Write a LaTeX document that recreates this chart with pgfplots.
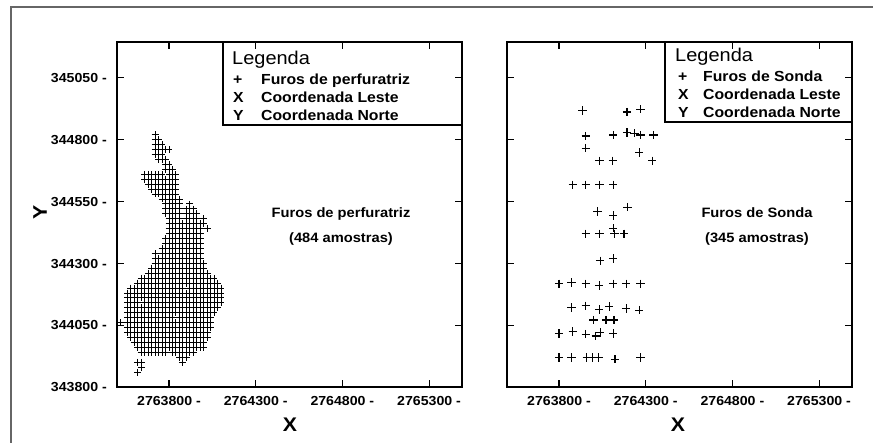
\documentclass[border=0pt]{standalone}
\usepackage{pgfplots}
\pgfplotsset{compat=1.18}
\usepackage{fontspec}
\setmainfont[FakeStretch=1.08]{Liberation Sans}
\makeatletter
\def\stripx27#1\relax{#1}
\def\firstfive#1#2#3#4#5#6\relax{#1#2#3#4#5}
\def\floatx1Y2.7#1e6]{\firstfive#10000\relax}
\def\utmx#1{\pgfutil@in@{Y}{#1}\ifpgfutil@in@\edef\pgfmathresult{\floatx#1}\else\edef\pgfmathresult{\stripx#1\relax}\fi}
\makeatother
\pgfplotsset{
  panel/.style={
    scale only axis, width=345pt, height=345pt,
    xmin=2763500, xmax=2765490, ymin=343800, ymax=345195,
    axis line style={line width=1.6pt, black},
    tick align=inside, major tick length=7pt,
    every tick/.style={black, line width=1.1pt},
    xtick={2763800,2764300,2764800,2765300},
    xticklabels={2763800 -,2764300 -,2764800 -,2765300 -},
    ytick={343800,344050,344300,344550,344800,345050},
    scaled ticks=false,
    xticklabel style={font=\bfseries\fontsize{13.1}{13.1}\selectfont, anchor=base, inner sep=0pt, yshift=-18.5pt},
    yticklabel style={font=\bfseries\fontsize{13.1}{13.1}\selectfont, anchor=base east, inner sep=0pt, xshift=-10pt, yshift=-4.7pt},
  }
}
\begin{document}
\begin{tikzpicture}[x=1pt,y=1pt]
\useasboundingbox (0,0) rectangle (873,443);
\draw[line width=1.4pt, black!60] (11,0) -- (11,436) -- (873,436);
% ---------------- left panel
\begin{axis}[panel, at={(117pt,56pt)}, anchor=south west,
  x coord trafo/.code={\utmx{#1}},
  yticklabels={343800 -,344050 -,344300 -,344550 -,344800 -,345050 -}]
\addplot[only marks, mark=+, mark size=3.4pt, mark options={line width=1pt}] coordinates {
(2763720,344820)
(2763720,344800)(2763740,344800)
(2763720,344780)(2763740,344780)(2763760,344780)
(2763720,344760)(2763740,344760)(2763760,344760)(2763780,344760)(2763800,344760)
(2763720,344740)(2763740,344740)(2763760,344740)
(2763740,344720)(2763760,344720)(2763780,344720)
(2763780,344700)(2763800,344700)
(2763780,344680)(2763800,344680)(2763820,344680)
(2763660,344660)(2763680,344660)(2763700,344660)(2763720,344660)(2763740,344660)(2763760,344660)(2763800,344660)(2763820,344660)(2763840,344660)
(2763660,344640)(2763680,344640)(2763700,344640)(2763720,344640)(2763740,344640)(2763760,344640)(2763780,344640)(2763800,344640)(2763820,344640)(2763840,344640)
(2763680,344620)(2763700,344620)(2763720,344620)(2763740,344620)(2763760,344620)(2763780,344620)(2763800,344620)(2763820,344620)(2763840,344620)
(2763700,344600)(2763720,344600)(2763740,344600)(2763760,344600)(2763780,344600)(2763800,344600)(2763820,344600)(2763840,344600)
(2763720,344580)(2763740,344580)(2763760,344580)(2763780,344580)(2763800,344580)(2763820,344580)(2763840,344580)
(2763760,344560)(2763780,344560)(2763800,344560)(2763820,344560)(2763840,344560)(2763860,344560)
(2763780,344540)(2763800,344540)(2763820,344540)(2763840,344540)(2763860,344540)(2763920,344540)
(2763780,344520)(2763800,344520)(2763820,344520)(2763840,344520)(2763860,344520)(2763900,344520)(2763920,344520)(2763940,344520)
(2763780,344500)(2763800,344500)(2763820,344500)(2763840,344500)(2763860,344500)(2763900,344500)(2763920,344500)(2763940,344500)(2763960,344500)
(2763800,344480)(2763820,344480)(2763840,344480)(2763860,344480)(2763900,344480)(2763920,344480)(2763940,344480)(2763960,344480)(2764000,344480)
(2763800,344460)(2763820,344460)(2763840,344460)(2763860,344460)(2763880,344460)(2763900,344460)(2763920,344460)(2763940,344460)(2763960,344460)(2763980,344460)(2764000,344460)
(2763800,344440)(2763820,344440)(2763840,344440)(2763860,344440)(2763880,344440)(2763900,344440)(2763920,344440)(2763940,344440)(2763960,344440)(2763980,344440)(2764020,344440)
(2763800,344420)(2763820,344420)(2763840,344420)(2763860,344420)(2763880,344420)(2763900,344420)(2763920,344420)(2763940,344420)(2763960,344420)(2763980,344420)
(2763780,344400)(2763800,344400)(2763820,344400)(2763840,344400)(2763860,344400)(2763880,344400)(2763900,344400)(2763920,344400)(2763940,344400)(2763960,344400)(2763980,344400)
(2763780,344380)(2763800,344380)(2763820,344380)(2763840,344380)(2763860,344380)(2763880,344380)(2763900,344380)(2763920,344380)(2763940,344380)(2763960,344380)(2763980,344380)
(2763760,344360)(2763780,344360)(2763800,344360)(2763820,344360)(2763840,344360)(2763860,344360)(2763880,344360)(2763900,344360)(2763920,344360)(2763940,344360)(2763960,344360)(2763980,344360)
(2763720,344340)(2763760,344340)(2763780,344340)(2763800,344340)(2763820,344340)(2763840,344340)(2763860,344340)(2763880,344340)(2763900,344340)(2763920,344340)(2763940,344340)(2763960,344340)(2763980,344340)
(2763720,344320)(2763740,344320)(2763760,344320)(2763780,344320)(2763800,344320)(2763820,344320)(2763840,344320)(2763860,344320)(2763880,344320)(2763900,344320)(2763920,344320)(2763940,344320)(2763960,344320)(2763980,344320)
(2763720,344300)(2763740,344300)(2763760,344300)(2763780,344300)(2763800,344300)(2763820,344300)(2763840,344300)(2763860,344300)(2763880,344300)(2763900,344300)(2763920,344300)(2763940,344300)(2763960,344300)(2763980,344300)(2764000,344300)
(2763700,344280)(2763720,344280)(2763740,344280)(2763760,344280)(2763780,344280)(2763800,344280)(2763820,344280)(2763840,344280)(2763860,344280)(2763880,344280)(2763900,344280)(2763920,344280)(2763940,344280)(2763960,344280)(2763980,344280)(2764000,344280)
(2763680,344260)(2763700,344260)(2763720,344260)(2763740,344260)(2763760,344260)(2763780,344260)(2763800,344260)(2763820,344260)(2763840,344260)(2763860,344260)(2763880,344260)(2763900,344260)(2763920,344260)(2763940,344260)(2763960,344260)(2763980,344260)(2764000,344260)(2764020,344260)
(2763640,344240)(2763660,344240)(2763680,344240)(2763700,344240)(2763720,344240)(2763740,344240)(2763760,344240)(2763780,344240)(2763800,344240)(2763820,344240)(2763840,344240)(2763860,344240)(2763880,344240)(2763900,344240)(2763920,344240)(2763940,344240)(2763960,344240)(2763980,344240)(2764000,344240)(2764020,344240)(2764040,344240)(2764060,344240)
(2763620,344220)(2763640,344220)(2763660,344220)(2763680,344220)(2763700,344220)(2763720,344220)(2763740,344220)(2763760,344220)(2763780,344220)(2763800,344220)(2763820,344220)(2763840,344220)(2763860,344220)(2763880,344220)(2763900,344220)(2763920,344220)(2763940,344220)(2763960,344220)(2763980,344220)(2764000,344220)(2764020,344220)(2764040,344220)(2764060,344220)(2764080,344220)
(2763580,344200)(2763600,344200)(2763620,344200)(2763640,344200)(2763660,344200)(2763680,344200)(2763700,344200)(2763720,344200)(2763740,344200)(2763760,344200)(2763780,344200)(2763800,344200)(2763820,344200)(2763840,344200)(2763860,344200)(2763880,344200)(2763920,344200)(2763940,344200)(2763960,344200)(2763980,344200)(2764000,344200)(2764020,344200)(2764040,344200)(2764060,344200)(2764080,344200)(2764100,344200)
(2763560,344180)(2763580,344180)(2763600,344180)(2763620,344180)(2763640,344180)(2763660,344180)(2763680,344180)(2763700,344180)(2763720,344180)(2763740,344180)(2763760,344180)(2763780,344180)(2763800,344180)(2763820,344180)(2763840,344180)(2763860,344180)(2763880,344180)(2763900,344180)(2763920,344180)(2763940,344180)(2763960,344180)(2763980,344180)(2764000,344180)(2764020,344180)(2764040,344180)(2764060,344180)(2764080,344180)(2764100,344180)
(2763560,344160)(2763580,344160)(2763600,344160)(2763620,344160)(2763640,344160)(2763660,344160)(2763680,344160)(2763700,344160)(2763720,344160)(2763740,344160)(2763760,344160)(2763780,344160)(2763800,344160)(2763820,344160)(2763840,344160)(2763860,344160)(2763880,344160)(2763900,344160)(2763920,344160)(2763940,344160)(2763960,344160)(2763980,344160)(2764000,344160)(2764020,344160)(2764040,344160)(2764060,344160)(2764080,344160)(2764100,344160)
(2763560,344140)(2763580,344140)(2763600,344140)(2763620,344140)(2763660,344140)(2763680,344140)(2763700,344140)(2763720,344140)(2763740,344140)(2763760,344140)(2763780,344140)(2763800,344140)(2763820,344140)(2763840,344140)(2763860,344140)(2763880,344140)(2763900,344140)(2763920,344140)(2763940,344140)(2763960,344140)(2763980,344140)(2764000,344140)(2764020,344140)(2764040,344140)(2764060,344140)(2764080,344140)(2764100,344140)
(2763560,344120)(2763580,344120)(2763600,344120)(2763620,344120)(2763640,344120)(2763660,344120)(2763680,344120)(2763700,344120)(2763720,344120)(2763740,344120)(2763760,344120)(2763780,344120)(2763800,344120)(2763820,344120)(2763840,344120)(2763860,344120)(2763880,344120)(2763900,344120)(2763920,344120)(2763940,344120)(2763960,344120)(2763980,344120)(2764000,344120)(2764020,344120)(2764040,344120)(2764060,344120)(2764080,344120)
(2763560,344100)(2763580,344100)(2763600,344100)(2763620,344100)(2763640,344100)(2763660,344100)(2763680,344100)(2763700,344100)(2763720,344100)(2763740,344100)(2763760,344100)(2763780,344100)(2763800,344100)(2763820,344100)(2763840,344100)(2763860,344100)(2763880,344100)(2763900,344100)(2763920,344100)(2763940,344100)(2763960,344100)(2763980,344100)(2764000,344100)(2764020,344100)(2764040,344100)(2764060,344100)
(2763560,344080)(2763580,344080)(2763600,344080)(2763620,344080)(2763640,344080)(2763660,344080)(2763680,344080)(2763700,344080)(2763720,344080)(2763740,344080)(2763760,344080)(2763780,344080)(2763800,344080)(2763820,344080)(2763860,344080)(2763880,344080)(2763900,344080)(2763920,344080)(2763940,344080)(2763960,344080)(2763980,344080)(2764000,344080)(2764020,344080)(2764040,344080)
(2763520,344060)(2763560,344060)(2763580,344060)(2763600,344060)(2763620,344060)(2763640,344060)(2763660,344060)(2763680,344060)(2763700,344060)(2763720,344060)(2763740,344060)(2763760,344060)(2763780,344060)(2763800,344060)(2763820,344060)(2763840,344060)(2763860,344060)(2763880,344060)(2763900,344060)(2763920,344060)(2763940,344060)(2763960,344060)(2763980,344060)(2764000,344060)(2764020,344060)(2764040,344060)
(2763560,344040)(2763580,344040)(2763600,344040)(2763620,344040)(2763640,344040)(2763660,344040)(2763680,344040)(2763700,344040)(2763720,344040)(2763740,344040)(2763760,344040)(2763780,344040)(2763800,344040)(2763820,344040)(2763840,344040)(2763860,344040)(2763880,344040)(2763900,344040)(2763920,344040)(2763940,344040)(2763960,344040)(2763980,344040)(2764000,344040)(2764020,344040)(2764040,344040)
(2763560,344020)(2763580,344020)(2763600,344020)(2763620,344020)(2763640,344020)(2763660,344020)(2763680,344020)(2763700,344020)(2763720,344020)(2763740,344020)(2763760,344020)(2763780,344020)(2763800,344020)(2763820,344020)(2763840,344020)(2763860,344020)(2763880,344020)(2763900,344020)(2763920,344020)(2763940,344020)(2763960,344020)(2763980,344020)(2764000,344020)(2764020,344020)
(2763580,344000)(2763600,344000)(2763620,344000)(2763640,344000)(2763660,344000)(2763680,344000)(2763700,344000)(2763720,344000)(2763740,344000)(2763760,344000)(2763780,344000)(2763800,344000)(2763820,344000)(2763840,344000)(2763860,344000)(2763880,344000)(2763900,344000)(2763920,344000)(2763940,344000)(2763960,344000)(2763980,344000)(2764000,344000)(2764020,344000)
(2763600,343980)(2763620,343980)(2763640,343980)(2763660,343980)(2763680,343980)(2763700,343980)(2763720,343980)(2763740,343980)(2763760,343980)(2763780,343980)(2763800,343980)(2763820,343980)(2763840,343980)(2763860,343980)(2763880,343980)(2763900,343980)(2763920,343980)(2763940,343980)(2763960,343980)(2763980,343980)(2764000,343980)
(2763620,343960)(2763640,343960)(2763660,343960)(2763680,343960)(2763700,343960)(2763720,343960)(2763740,343960)(2763760,343960)(2763780,343960)(2763800,343960)(2763820,343960)(2763840,343960)(2763860,343960)(2763880,343960)(2763900,343960)(2763920,343960)(2763940,343960)(2763960,343960)(2763980,343960)(2764000,343960)
(2763640,343940)(2763660,343940)(2763680,343940)(2763700,343940)(2763720,343940)(2763740,343940)(2763760,343940)(2763780,343940)(2763820,343940)(2763840,343940)(2763860,343940)(2763880,343940)(2763900,343940)(2763920,343940)(2763940,343940)
(2763860,343920)(2763880,343920)(2763900,343920)
(2763620,343900)(2763640,343900)(2763880,343900)
(2763640,343880)
(2763620,343860)
};
\end{axis}
% ---------------- right panel
\begin{axis}[panel, at={(507pt,56pt)}, anchor=south west,
  x coord trafo/.code={\utmx{#1}},
  yticklabels={,,,,,}]
\addplot[only marks, mark=+, mark size=4.2pt, mark options={line width=1.1pt}] coordinates {
(2763935,344918)(2764192,344912)(2764269,344923)
(2763955,344815)(2764113,344819)(2764192,344829)(2764235,344826)(2764269,344819)(2764344,344819)
(2763955,344766)
(2764263,344748)
(2764033,344714)(2764110,344714)(2764338,344714)
(2763880,344617)(2763955,344617)(2764033,344617)(2764113,344617)
(2764023,344509)(2764113,344494)(2764194,344527)
(2763955,344419)(2764033,344419)(2764113,344442)(2764119,344419)(2764175,344419)
(2764037,344310)(2764113,344320)
(2763800,344217)(2763873,344222)(2763955,344217)(2764031,344211)(2764113,344217)(2764187,344217)(2764269,344217)
(2763873,344122)(2763955,344128)(2764031,344114)(2764090,344125)(2764187,344118)(2764263,344111)
(2763998,344071)(2764071,344071)(2764117,344071)
(2763800,344017)(2763880,344024)(2763955,344014)(2764013,344006)(2764037,344020)(2764113,344017)
(2763800,343919)(2763873,343919)(2763960,343919)(2763994,343919)(2764029,343919)(2764123,343912)(2764269,343919)
};
\end{axis}
% ---------------- legends
\draw[line width=1.6pt] (223,318) rectangle (462,401);
\node[anchor=base west, inner sep=0pt, font=\fontsize{18.5}{18.5}\selectfont] at (232,378) {Legenda};
\begin{scope}[every node/.style={anchor=base west, inner sep=0pt, font=\bfseries\fontsize{14.6}{14.6}\selectfont}]
\node at (233,358) {+}; \node at (261,358) {Furos de perfuratriz};
\node at (233,340) {X}; \node at (261,340) {Coordenada Leste};
\node at (233,322) {Y}; \node at (261,322) {Coordenada Norte};
\end{scope}
\draw[line width=1.6pt] (665,321) rectangle (852,401);
\node[anchor=base west, inner sep=0pt, font=\fontsize{18.5}{18.5}\selectfont] at (675,381) {Legenda};
\begin{scope}[every node/.style={anchor=base west, inner sep=0pt, font=\bfseries\fontsize{14.6}{14.6}\selectfont}]
\node at (678,361) {+}; \node at (703,361) {Furos de Sonda};
\node at (678,343) {X}; \node at (703,343) {Coordenada Leste};
\node at (678,325) {Y}; \node at (703,325) {Coordenada Norte};
\end{scope}
% ---------------- centre texts
\begin{scope}[every node/.style={anchor=base, inner sep=0pt, font=\bfseries\fontsize{13.6}{13.6}\selectfont}]
\node at (341,225) {Furos de perfuratriz};
\node at (341,200) {(484 amostras)};
\node at (757,225) {Furos de Sonda};
\node at (757,200) {(345 amostras)};
\end{scope}
% ---------------- axis labels
\node[anchor=base, inner sep=0pt, font=\bfseries\fontsize{19.7}{19.7}\selectfont] at (290,11) {X};
\node[anchor=base, inner sep=0pt, font=\bfseries\fontsize{19.7}{19.7}\selectfont] at (678,11) {X};
\node[rotate=90, inner sep=0pt, font=\bfseries\fontsize{19.7}{19.7}\selectfont] at (40,231) {Y};
\end{tikzpicture}
\end{document}
